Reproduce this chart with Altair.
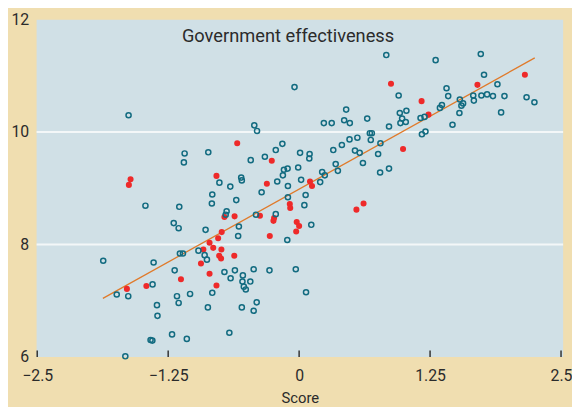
import altair as alt
import pandas as pd

# Open circles (teal)
open_x = [-1.628, -0.428, -0.402, -1.093, -0.867, -1.100, -0.462, -0.327, -0.223, -0.761,
          -0.657, -0.553, -0.547, -0.358, -0.209, -1.467, -1.144, -0.829, -0.833, -0.600,
          -0.692, -0.701, -0.412, -0.223, -1.197, -1.150, -0.893, -0.575, -0.582, -0.961,
          -1.138, -1.109, -0.902, -0.880, -1.870, -1.389, -1.188, -0.713, -0.613, -0.654,
          -0.537, -0.434, -0.283, -1.399, -0.541, -0.466, -0.528, -0.509, -0.829, -1.741,
          -1.631, -1.166, -1.041, -1.150, -1.357, -1.352, -0.871, -0.547, -0.405, -0.434,
          -1.213, -1.418, -1.401, -1.072, -0.666, -1.659, 0.449, 0.236, 0.311, 0.430,
          0.484, 0.650, 0.858, 1.024, 0.961, 0.983, 0.967, 1.018, 0.675, 0.694,
          0.684, 0.776, 0.754, 0.609, 0.773, 0.858, 0.556, 0.481, 0.408, 0.326,
          0.533, 0.578, -0.160, 0.009, 0.100, 0.097, -0.145, -0.110, -0.009, -0.155,
          -0.107, 0.019, 0.201, 0.245, 0.220, 0.349, 0.370, 0.062, 0.050, -0.107,
          0.116, -0.113, -0.032, 0.066, -0.044, 0.832, 0.950, 1.303, 1.734, 1.765,
          1.407, 1.423, 1.893, 2.171, 2.246, 1.960, 1.850, 1.794, 1.740, 1.662,
          1.668, 1.534, 1.530, 1.565, 1.549, 1.928, 1.363, 1.344, 1.197, 1.159,
          1.464, 1.206, 1.172]
open_y = [10.30, 10.12, 10.02, 9.62, 9.64, 9.46, 9.50, 9.56, 9.68, 9.10,
          9.03, 9.19, 9.14, 8.93, 9.12, 8.69, 8.67, 8.89, 8.73, 8.79,
          8.59, 8.53, 8.53, 8.54, 8.38, 8.29, 8.26, 8.32, 8.15, 7.89,
          7.84, 7.84, 7.81, 7.73, 7.71, 7.68, 7.54, 7.51, 7.54, 7.40,
          7.45, 7.56, 7.54, 7.29, 7.34, 7.34, 7.25, 7.20, 7.14, 7.11,
          7.08, 7.08, 7.12, 6.96, 6.92, 6.73, 6.88, 6.88, 6.97, 6.82,
          6.40, 6.30, 6.29, 6.32, 6.43, 6.01, 10.40, 10.16, 10.16, 10.21,
          10.16, 10.24, 10.10, 10.38, 10.34, 10.24, 10.16, 10.18, 9.98, 9.98,
          9.86, 9.80, 9.61, 9.45, 9.28, 9.35, 9.90, 9.87, 9.77, 9.68,
          9.67, 9.63, 9.79, 9.63, 9.61, 9.53, 9.33, 9.35, 9.37, 9.23,
          9.04, 9.15, 9.11, 9.23, 9.29, 9.43, 9.31, 8.88, 8.70, 8.84,
          8.35, 8.08, 7.56, 7.15, 10.80, 11.37, 10.65, 11.28, 11.39, 11.02,
          10.78, 10.64, 10.85, 10.62, 10.53, 10.64, 10.64, 10.67, 10.65, 10.65,
          10.56, 10.58, 10.34, 10.51, 10.47, 10.35, 10.48, 10.43, 10.27, 10.25,
          10.13, 10.01, 9.96]

# Highlighted points (red)
red_x = [-0.591, -0.261, -1.609, -1.625, -0.789, -0.308, -0.713, -0.616, -0.374, -0.239,
         -0.245, -0.739, -0.773, -0.280, -0.855, -0.820, -0.914, -0.742, -0.763, -0.745,
         -0.619, -0.937, -0.855, -1.128, -1.644, -1.458, -0.789, 0.104, 0.123, -0.089,
         -0.085, -0.023, 0.000, -0.028, 0.547, 0.615, 0.992, 0.877, 1.169, 1.235,
         1.702, 2.155]
red_y = [9.80, 9.49, 9.16, 9.06, 9.22, 9.08, 8.49, 8.50, 8.51, 8.47,
         8.42, 8.22, 8.11, 8.15, 8.03, 7.94, 7.91, 7.91, 7.80, 7.75,
         7.80, 7.66, 7.48, 7.38, 7.21, 7.26, 7.27, 9.12, 9.04, 8.72,
         8.65, 8.40, 8.33, 8.23, 8.62, 8.73, 9.70, 10.86, 10.55, 10.31,
         10.84, 11.02]

# Fitted line end points
line_x = [-1.873, 2.249]
line_y = [7.04, 11.32]

x_ticks = [-2.5, -1.25, 0, 1.25, 2.5]
y_ticks = [6, 8, 10, 12]
grid_y = [8, 10]
chart_title = "Government effectiveness"
x_title = "Score"

W, H = 534, 342
FONT = "Roboto"
TEXT_COLOR = "#2b2b2b"

xscale = alt.Scale(domain=[-2.506, 2.52], nice=False, zero=False)
yscale = alt.Scale(domain=[6, 12], nice=False, zero=False)

open_df = pd.DataFrame({"x": open_x, "y": open_y})
red_df = pd.DataFrame({"x": red_x, "y": red_y})
line_df = pd.DataFrame({"x": line_x, "y": line_y})
tick_df = pd.DataFrame({"x": x_ticks})
grid_df = pd.DataFrame({"y": grid_y})
title_df = pd.DataFrame({"t": [chart_title]})

x_axis = alt.Axis(values=x_ticks, labelExpr="replace(format(datum.value, '~g'), '-', '\u2212')",
                  ticks=False, domain=False, grid=False, labelFont=FONT, labelFontSize=16,
                  labelColor=TEXT_COLOR, labelPadding=11, labelFlush=False,
                  title=x_title, titleFont=FONT, titleFontSize=15, titleFontWeight="normal",
                  titleColor=TEXT_COLOR, titleY=46, titleBaseline="alphabetic")
y_axis = alt.Axis(values=y_ticks, ticks=False, domain=False, grid=False, labelFont=FONT,
                  labelFontSize=16, labelColor=TEXT_COLOR, labelPadding=8, title=None,
                  labelFlush=False)

X = alt.X("x:Q", scale=xscale, axis=x_axis)
Y = alt.Y("y:Q", scale=yscale, axis=y_axis)

grid = alt.Chart(grid_df).mark_rule(color="#F3F7F8", strokeWidth=2).encode(y=Y)

ticks = alt.Chart(tick_df).mark_rule(color="#333333", strokeWidth=1.5).encode(
    x=X,
    y=alt.value(H - 6.5),
    y2=alt.value(H),
)

line = alt.Chart(line_df).mark_line(color="#E07A2A", strokeWidth=1.3).encode(x=X, y=Y)

reds = alt.Chart(red_df).mark_circle(color="#EE2A2A", size=38, opacity=1).encode(x=X, y=Y)

opens = alt.Chart(open_df).mark_point(shape="circle", filled=False, color="#126B80",
                                      size=27, strokeWidth=1.5, opacity=1).encode(x=X, y=Y)

title = alt.Chart(title_df).mark_text(font=FONT, fontSize=18.5, color=TEXT_COLOR,
                                      align="center", baseline="alphabetic").encode(
    text="t:N", x=alt.value(255), y=alt.value(23)
)

chart = alt.layer(grid, ticks, line, reds, opens, title).properties(
    width=W, height=H,
    autosize=alt.AutoSizeParams(type="none"),
    padding={"left": 29, "top": 9, "right": 9, "bottom": 48},
    background="#F0DEB0",
).configure_view(fill="#D0E0E6", stroke=None)

chart.save("out.html", embed_options={"renderer": "svg", "actions": False})
